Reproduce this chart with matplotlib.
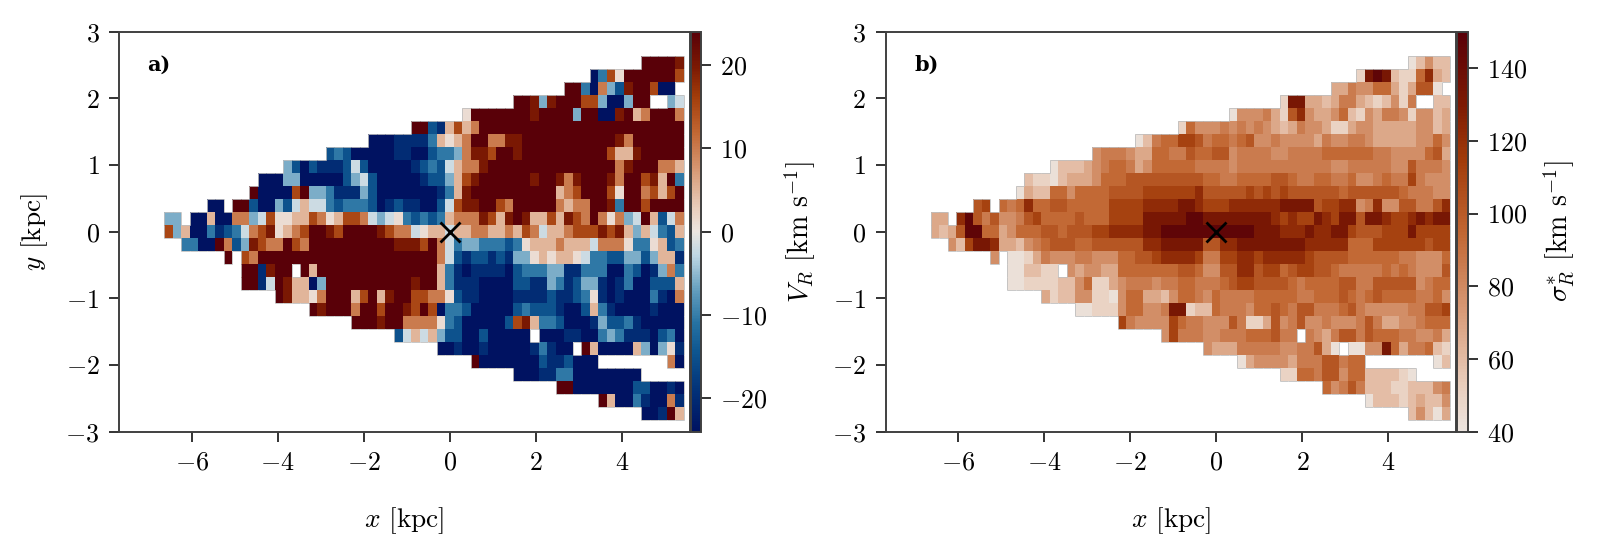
import matplotlib
matplotlib.use("Agg")
import matplotlib.pyplot as plt
import numpy as np
from matplotlib.colors import LinearSegmentedColormap, ListedColormap, Normalize
from matplotlib.cm import ScalarMappable

plt.rcParams["font.family"] = ["cmr10"]
plt.rcParams["mathtext.fontset"] = "cm"
plt.rcParams["axes.unicode_minus"] = False
plt.rcParams["axes.linewidth"] = 0.7

# first filled column of every row, top row first (same footprint in both maps)
row_starts = [56, 50, 47, 41, 35, 29, 24, 19, 14, 11, 10, 5, 0, 0,
              2, 7, 9, 9, 13, 17, 22, 27, 32, 36, 41, 46, 51, 56]

# one letter per cell, read by eye, "." is an empty cell
vr_levels = dict(A=-26, B=-20, C=-15, D=-10.5, E=-6, F=-2, G=1, H=5, I=10, J=15, K=20, L=26)
vr_rows = [
    "LLLLK",
    "ADJGLLLLLLJ",
    "LLDAIECKLLJAA.",
    "LLKEKLLLJJEAAELL..EF",
    "GLLLLLLLKLLLLELLAAKLHILLLI",
    "LLCBHJHI" "LLLLLLLLLLLL" "LLLLLLLLLLLL",
    "AAABBBBDHGHILLIIKK" "LLLLLLLLLLL" "KI" "LLLLLL",
    "CDCAAAAABBAACDDEIKKJLLK" "LLLLLLLLLL" "JHHK" "LLLLL",
    "ECACBBBCFCAAAAABCDCFHIIK" "LLLLLLLLLLLLLLL" "IKLLLIIH",
    "AAAEEAAAAACEFCAAAAABCCEHJK" "LLLLLL" "KLLKIKLLLKILLJKHLD",
    "LAAAAJLEEDBBBECAAAA" "AAABDHK" "LLLLLLLLLL" "HIJLLLJGLLIJHJL",
    "AA.LLCAAECFHFFDCDDDCABCB" "BAACFJKKLLJI" "LLLLL" "IHIILLKDLLJLLLL",
    "EE.AAHAAIIEFJGGHHJIGHJJIFEFGD" "CDCDHIIIKJHKLKHH" "JHKJILIGIEFLHCFI",
    "JEHAADBCDFIJKGHIJLLKJLLLLKJII" "FGHHFHHIIHHIHJIFHHIJJJKJKHEHFDCH",
    "DDAALICEKJIILJI" "LLLLLLLLLL" "KK" "KJLIFDEEDDDCDGHHHIHHHFIIIGDDGHCD",
    "L.JI" "LLLLLLLLLLLLLLLLLL" "LLL" "IFCBCCBCBEEGHGHHGFDDCCEECEHHB",
    "LLBKLL.LH" "LLLLLLLLLLL" "LLL" "HDBABBBBACDDDEEBBDDDAADCABEID",
    "LLBFLKHHAE" "LLLLLLLLLL" "KLL" "HDBBBAAAACCBBEDBCEEBABDAACCCH",
    "LKHHGILLLHJLHKLL" "JJIIGCBBAAAABBBBCBBCDGBABAAADBAI",
    "LKLLLILLJLLK" "JLJADDCAAAAACDCCCBAACHDBAAAABAAA",
    "LLLKLLI" "IIIGDCAAAAACJKHDDCAAABECCDBAAAAA",
    "CF" "HFHECCAACAAAAA.AAABBAADEDBBBACDA",
    "AABAABAAAAABDBAA.LHAAAAHEAEGB",
    "LAAAAAAACBBCAAA........IA",
    "AAABBDDAAAAAAAA",
    "LLAAAAAAACCAABA",
    "LHAADBAAIB",
    "AABLH",
]

sigma_levels = {"0": 43, "1": 50, "2": 59, "3": 68, "4": 78, "5": 86, "6": 94,
                "7": 102, "8": 112, "9": 122, "a": 132, "b": 146}
sigma_rows = [
    "02422",
    "1aba2116932",
    "3354466313770.",
    "1aa3323553212415..22",
    "04445317943346214355414423",
    "1644454545" "4323544311" "3443333344" "23",
    "02566" "88756" "65674" "45444" "43544" "55433" "33344" "64",
    "45554" "33665" "57667" "74555" "54455" "55666" "66655" "44446" "73",
    "02223" "45665" "34666" "66555" "54555" "55555" "55544" "55555" "44755" "54",
    "21102" "33346" "66777" "77777" "76655" "66667" "76556" "65564" "45655" "85444",
    "03226" "64666" "67777" "88888" "89777" "77878" "78777" "77767" "77777" "65554" "4",
    "78.65" "69667" "76666" "68888" "9999a" "a9888" "99999" "9aaaa" "78899" "45944" "77557" "9",
    "33.9b" "75744" "57866" "66766" "68888" "aaaaa" "bbaaa" "aaaaa" "98988" "a98aa" "7aa98" "89a9a" "a",
    "3237b" "b6634" "66677" "67778" "89999" "aabbb" "bbbbb" "bbbaa" "a999a" "99aa8" "77788" "8a888" "8",
    "428aa9332456777" "66777" "77799" "aaaaa" "7799a" "aaaaa" "aa999" "99666" "88888" "8788",
    "4.001" "35444" "55444" "66778" "99998" "55889" "98999" "99877" "77666" "66655" "4446",
    "00221" "1.434" "43366" "66666" "77644" "77997" "88678" "87765" "55556" "56544" "47",
    "00111" "12246" "11345" "55455" "66555" "67887" "77765" "66667" "75577" "77745" "66",
    "31224" "41104" "66332" "46654" "65555" "66666" "55666" "76567" "66665" "564",
    "00111" "46644" "5aa12" "26555" "46676" "57755" "56754" "44445" "5778",
    "85444" "48655" "44475" "11374" "57445" "44457" "53344" "5666",
    "48555" "44555" "66675" "5.543" "57757" "66655" "4453",
    "43335" "55554" "45573" "0.004" "4a635" "5621",
    "03444" "43555" "77566" "........" "02",
    "11665" "77466" "22221" "0",
    "64575" "22211" "22245",
    "0222123224",
    "24203",
]

x_ticks = [-6, -4, -2, 0, 2, 4]
y_ticks = [-3, -2, -1, 0, 1, 2, 3]
vr_ticks = [-20, -10, 0, 10, 20]
sigma_ticks = [40, 60, 80, 100, 120, 140]

n_cols = 61
x_edges = np.linspace(-6.644, 5.434, n_cols + 1)
y_edges = np.linspace(2.64, -2.823, len(row_starts) + 1)

vik = LinearSegmentedColormap.from_list("vik", [
    (0.00, (0 / 255, 18 / 255, 97 / 255)),
    (0.10, (2 / 255, 49 / 255, 120 / 255)),
    (0.20, (14 / 255, 86 / 255, 144 / 255)),
    (0.27, (38 / 255, 114 / 255, 162 / 255)),
    (0.35, (97 / 255, 156 / 255, 189 / 255)),
    (0.44, (190 / 255, 215 / 255, 228 / 255)),
    (0.50, (236 / 255, 229 / 255, 224 / 255)),
    (0.56, (233 / 255, 205 / 255, 187 / 255)),
    (0.65, (216 / 255, 155 / 255, 120 / 255)),
    (0.75, (193 / 255, 102 / 255, 50 / 255)),
    (0.84, (162 / 255, 60 / 255, 10 / 255)),
    (0.91, (125 / 255, 26 / 255, 3 / 255)),
    (1.00, (89 / 255, 0 / 255, 8 / 255)),
])
vik_half = ListedColormap(vik(np.linspace(0.5, 1, 256)))


def build_grid(rows, levels):
    grid = np.full((len(rows), n_cols), np.nan)
    for r, row in enumerate(rows):
        assert row_starts[r] + len(row) == n_cols or r == 24, (r, len(row))
        for i, ch in enumerate(row):
            if ch != ".":
                grid[r, row_starts[r] + i] = levels[ch]
    return grid


def outline(ax, grid):
    """thin grey line around the filled cells"""
    filled = np.pad(~np.isnan(grid), 1, constant_values=False)
    for r in range(grid.shape[0] + 1):
        for c in range(grid.shape[1]):
            if filled[r, c + 1] != filled[r + 1, c + 1]:
                ax.hlines(y_edges[r], x_edges[c], x_edges[c + 1], color="0.75", lw=0.3)
    for r in range(grid.shape[0]):
        for c in range(grid.shape[1] + 1):
            if filled[r + 1, c] != filled[r + 1, c + 1]:
                ax.vlines(x_edges[c], y_edges[r], y_edges[r + 1], color="0.75", lw=0.3)


def math_labels(ticks):
    return [f"${t}$" for t in ticks]


def draw_panel(left_px, cbar_px, grid, cmap, norm, cbar_ticks, cbar_label, tag, cbar_x):
    ax = fig.add_axes([left_px / W, 1 - 431.7 / H, 570.5 / W, 400 / H])
    ax.pcolormesh(x_edges, y_edges, grid, cmap=cmap, norm=norm, zorder=2)
    outline(ax, grid)
    ax.plot(0, 0, "x", color="k", ms=7.5, mew=1.0, zorder=5)
    ax.set_xlim(-7.69, 5.57)
    ax.set_ylim(-3, 3)
    ax.set_xticks(x_ticks, math_labels(x_ticks))
    ax.set_yticks(y_ticks, math_labels(y_ticks))
    ax.tick_params(labelsize=9.4, width=0.7, color="0.2")
    for s in ax.spines.values():
        s.set_edgecolor("0.25")
    ax.set_xlabel(r"$x$ [kpc]", fontsize=9.8)
    ax.xaxis.set_label_coords(0.5, -0.183)
    ax.text(0.05, 0.917, tag, transform=ax.transAxes, family="DejaVu Serif", weight="bold",
            fontsize=7.5, va="center")

    cax = fig.add_axes([cbar_px / W, 1 - 431.7 / H, 10.5 / W, 400 / H])
    cb = fig.colorbar(ScalarMappable(norm=norm, cmap=cmap), cax=cax)
    cb.set_ticks(cbar_ticks, labels=math_labels(cbar_ticks))
    cb.ax.tick_params(labelsize=9.4, width=0.7, color="0.2")
    cb.outline.set_linewidth(0.7)
    cb.outline.set_edgecolor("0.25")
    cb.set_label(cbar_label, fontsize=10)
    cb.ax.yaxis.set_label_coords(cbar_x, 0.5)
    return ax


W, H = 1601, 557
fig = plt.figure(figsize=(W / 200, H / 200), dpi=200)

vr_grid = build_grid(vr_rows, vr_levels)
sigma_grid = build_grid(sigma_rows, sigma_levels)

ax_a = draw_panel(119, 690.5, vr_grid, vik, Normalize(-24, 24), vr_ticks,
                  r"$V_R$ [km s$^{-1}$]", "a)", 8.81)
ax_a.set_ylabel(r"$y$ [kpc]", fontsize=9.8)
ax_a.yaxis.set_label_coords(-0.121, 0.5)
draw_panel(885.5, 1457.2, sigma_grid, vik_half, Normalize(40, 150), sigma_ticks,
           r"$\sigma_R^{*}$ [km s$^{-1}$]", "b)", 8.08)

fig.savefig("out.png", dpi=200)
